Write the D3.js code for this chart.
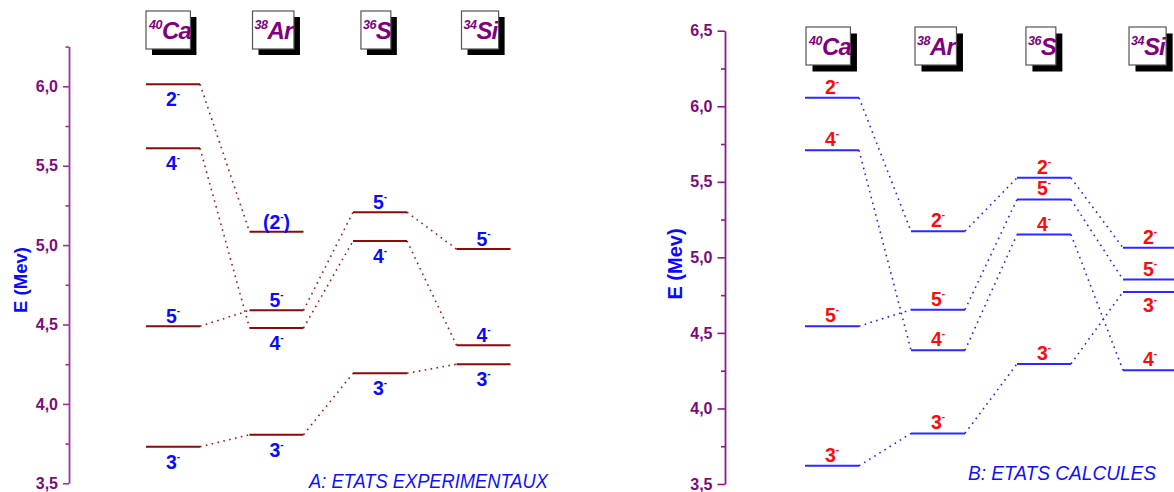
<!DOCTYPE html>
<html><head><meta charset="utf-8">
<script src="https://cdn.jsdelivr.net/npm/d3@7"></script>
<style>
html,body{margin:0;padding:0;background:#fff;overflow:hidden}
svg{display:block;font-family:"Liberation Sans",Arial,Helvetica,sans-serif}
</style>
</head><body>
<svg id="chart" width="1174" height="492"></svg>
<script>
// ---------- data ----------
const nuclei = ["Ca", "Ar", "S", "Si"];
const massNumbers = ["40", "38", "36", "34"];

const tickValuesA = [3.5, 4.0, 4.5, 5.0, 5.5, 6.0];
const tickLabelsA = ["3,5", "4,0", "4,5", "5,0", "5,5", "6,0"];
const tickValuesB = [3.5, 4.0, 4.5, 5.0, 5.5, 6.0, 6.5];
const tickLabelsB = ["3,5", "4,0", "4,5", "5,0", "5,5", "6,0", "6,5"];

// A: experimental states (spin J-, energy MeV)
const expCa = [{j: "2", e: 6.013}, {j: "4", e: 5.610}, {j: "5", e: 4.489}, {j: "3", e: 3.730}];
const expAr = [{j: "2", e: 5.084, tentative: true}, {j: "5", e: 4.589}, {j: "4", e: 4.478}, {j: "3", e: 3.806}];
const expS  = [{j: "5", e: 5.207}, {j: "4", e: 5.026}, {j: "3", e: 4.193}];
const expSi = [{j: "5", e: 4.975}, {j: "4", e: 4.370}, {j: "3", e: 4.250}];

// B: calculated states
const calcCa = [{j: "2", e: 6.056}, {j: "4", e: 5.709}, {j: "5", e: 4.544}, {j: "3", e: 3.620}];
const calcAr = [{j: "2", e: 5.173}, {j: "5", e: 4.654}, {j: "4", e: 4.385}, {j: "3", e: 3.835}];
const calcS  = [{j: "2", e: 5.526}, {j: "5", e: 5.383}, {j: "4", e: 5.151}, {j: "3", e: 4.295}];
const calcSi = [{j: "2", e: 5.063}, {j: "5", e: 4.853}, {j: "3", e: 4.771}, {j: "4", e: 4.253}];

// which spin labels sit under their level (others sit above)
const expBelow  = [["2", "4", "3"], ["4", "3"], ["4", "3"], ["3"]];
const calcBelow = [[], [], [], ["3"]];

const titleA = "A: ETATS EXPERIMENTAUX";
const titleB = "B: ETATS CALCULES";
const yTitle = "E (Mev)";

// ---------- drawing ----------
const svg = d3.select("#chart");

function drawPanel(cfg) {
  const g = svg.append("g");
  const y = d3.scaleLinear().domain(cfg.domain).range(cfg.yRange);
  const x = d3.scalePoint().domain(nuclei).range(cfg.xRange);

  // minor ticks
  const minor = d3.range(3.75, cfg.domain[1] + 0.001, 0.5);
  const gMinor = g.append("g").attr("transform", `translate(${cfg.axisX},0)`)
    .call(d3.axisLeft(y).tickValues(minor).tickSize(cfg.minorLen).tickFormat(""));
  gMinor.select(".domain").remove();
  gMinor.selectAll("line").attr("stroke", cfg.axisColor).attr("stroke-width", 1.6);

  // major axis
  const gAxis = g.append("g").attr("transform", `translate(${cfg.axisX},0)`)
    .call(d3.axisLeft(y).tickValues(cfg.ticks)
      .tickFormat((d, i) => cfg.tickLabels[i])
      .tickSize(cfg.tickLen).tickSizeOuter(0).tickPadding(cfg.tickPad));
  gAxis.select(".domain").attr("stroke", cfg.axisColor).attr("stroke-width", 1.8);
  gAxis.selectAll(".tick line").attr("stroke", cfg.axisColor).attr("stroke-width", 1.6);
  gAxis.selectAll(".tick text")
    .attr("fill", cfg.tickTextColor)
    .attr("font-family", "Liberation Sans, Arial, sans-serif")
    .attr("font-size", 16).attr("font-weight", "bold");

  // y title
  g.append("text")
    .attr("transform", `translate(${cfg.yTitleX},${cfg.yTitleY}) rotate(-90)`)
    .attr("text-anchor", "middle").attr("dominant-baseline", "central")
    .attr("fill", "#0a0aff").attr("font-weight", "bold")
    .attr("font-size", cfg.yTitleSize).text(yTitle);

  const hw = cfg.halfWidth;

  // dotted connectors
  for (let i = 0; i < cfg.columns.length - 1; i++) {
    const a = cfg.columns[i], b = cfg.columns[i + 1];
    a.forEach(la => {
      const lb = b.find(d => d.j === la.j);
      if (!lb) return;
      g.append("line")
        .attr("x1", x(nuclei[i]) + hw).attr("y1", y(la.e))
        .attr("x2", x(nuclei[i + 1]) - hw).attr("y2", y(lb.e))
        .attr("stroke", cfg.linkColor).attr("stroke-width", 1.6)
        .attr("stroke-dasharray", "1.6,4.4");
    });
  }

  // level lines + labels
  cfg.columns.forEach((col, i) => {
    const cx = x(nuclei[i]);
    g.selectAll(null).data(col).enter().append("line")
      .attr("x1", cx - hw).attr("x2", cx + hw)
      .attr("y1", d => y(d.e)).attr("y2", d => y(d.e))
      .attr("stroke", cfg.levelColor).attr("stroke-width", 2);

    col.forEach(d => {
      const below = cfg.below[i].includes(d.j);
      const t = g.append("text")
        .attr("x", cx).attr("y", y(d.e) + (below ? cfg.belowOff : cfg.aboveOff))
        .attr("text-anchor", "middle").attr("font-weight", "bold")
        .attr("font-size", 19.5).attr("fill", cfg.labelColor);
      if (d.tentative) t.append("tspan").text("(");
      t.append("tspan").text(d.j);
      t.append("tspan").attr("font-size", 10).attr("dy", -9).text("-");
      if (d.tentative) t.append("tspan").attr("dy", 9).text(")");
    });
  });

  // nucleus boxes
  nuclei.forEach((n, i) => {
    const gb = g.append("g");
    const shadow = gb.append("rect").attr("fill", "#000");
    const box = gb.append("rect").attr("fill", "#fff").attr("stroke", "#555").attr("stroke-width", 1.2);
    const t = gb.append("text")
      .attr("x", x(n) + cfg.boxDx).attr("y", cfg.boxTop + 28)
      .attr("text-anchor", "middle").attr("font-weight", "bold")
      .attr("font-style", "italic").attr("fill", "#800080");
    t.append("tspan").attr("font-size", 12.5).attr("dy", -10).attr("letter-spacing", -0.5).text(massNumbers[i]);
    t.append("tspan").attr("font-size", 24).attr("dy", 10).attr("letter-spacing", -0.8).text(n);
    const bb = t.node().getBBox();
    const bx = bb.x - 2, bw = bb.width + 1;
    box.attr("x", bx).attr("y", cfg.boxTop).attr("width", bw).attr("height", cfg.boxH);
    shadow.attr("x", bx + cfg.shadow).attr("y", cfg.boxTop + cfg.shadow)
      .attr("width", bw).attr("height", cfg.boxH);
  });

  // panel title
  g.append("text")
    .attr("x", cfg.titleX).attr("y", cfg.titleY)
    .attr("font-style", "italic").attr("font-size", 21)
    .attr("fill", "#1010ff")
    .attr("textLength", cfg.titleLen).attr("lengthAdjust", "spacingAndGlyphs")
    .text(cfg.title);
}

drawPanel({
  domain: [3.5, 6.25], yRange: [483.3, 46.6],
  xRange: [173, 483.5], axisX: 69,
  ticks: tickValuesA, tickLabels: tickLabelsA,
  tickLen: 6, minorLen: 3.5, tickPad: 5,
  axisColor: "#9d349d", tickTextColor: "#7d0a7d",
  yTitleX: 20, yTitleY: 280, yTitleSize: 18.5,
  halfWidth: 27,
  columns: [expCa, expAr, expS, expSi], below: expBelow,
  levelColor: "#8b0a0a", linkColor: "#a01818", labelColor: "#0a0aff",
  aboveOff: -3, belowOff: 22,
  boxTop: 11, boxH: 38, boxDx: -3, shadow: 6,
  title: titleA, titleX: 309, titleY: 488, titleLen: 239
});

drawPanel({
  domain: [3.5, 6.5], yRange: [484, 30.7],
  xRange: [832, 1150], axisX: 725,
  ticks: tickValuesB, tickLabels: tickLabelsB,
  tickLen: 7.5, minorLen: 4, tickPad: 5,
  axisColor: "#8a1a8a", tickTextColor: "#7d0a7d",
  yTitleX: 675, yTitleY: 264, yTitleSize: 20,
  halfWidth: 27,
  columns: [calcCa, calcAr, calcS, calcSi], below: calcBelow,
  levelColor: "#2a2aff", linkColor: "#2020ff", labelColor: "#ff0a0a",
  aboveOff: -4, belowOff: 20,
  boxTop: 27, boxH: 38, boxDx: -2, shadow: 6.5,
  title: titleB, titleX: 968, titleY: 480, titleLen: 188
});
</script>
</body></html>
